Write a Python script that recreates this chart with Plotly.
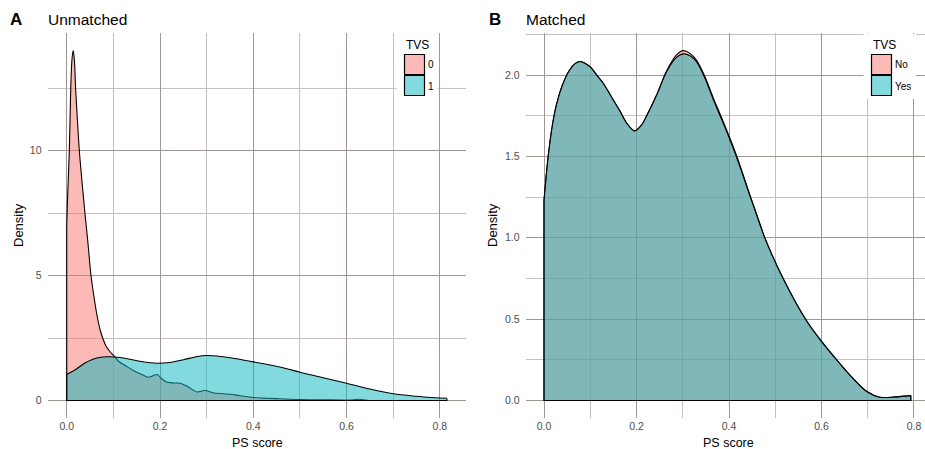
import plotly.graph_objects as go

W, H = 925, 449

# ---- Unmatched cohort: propensity-score densities by TVS group ----
ps_unm_0 = [0.000, 0.002, 0.0056, 0.0086, 0.0115, 0.014, 0.0165, 0.019, 0.023, 0.027,
            0.033, 0.039, 0.045, 0.052, 0.058, 0.065, 0.072, 0.078, 0.085, 0.093,
            0.1035, 0.111, 0.127, 0.143, 0.160, 0.175, 0.186, 0.194, 0.203, 0.214,
            0.228, 0.243, 0.260, 0.279, 0.296, 0.315, 0.336, 0.355, 0.371, 0.400,
            0.430, 0.457, 0.500, 0.550, 0.600, 0.615, 0.628, 0.640, 0.648]
dens_unm_0 = [7.0, 8.2, 10.0, 12.5, 13.7, 14.0, 13.6, 12.5, 11.2, 10.0,
              8.7, 7.5, 6.4, 5.0, 4.2, 3.4, 2.8, 2.45, 2.15, 1.95,
              1.74, 1.57, 1.38, 1.20, 1.05, 0.93, 1.00, 1.04, 0.88, 0.74,
              0.70, 0.69, 0.55, 0.34, 0.40, 0.30, 0.27, 0.24, 0.19, 0.12,
              0.09, 0.07, 0.04, 0.03, 0.02, 0.03, 0.05, 0.02, 0.0]

ps_unm_1 = [0.000, 0.020, 0.039, 0.055, 0.070, 0.085, 0.1035, 0.130, 0.160, 0.193,
            0.220, 0.250, 0.280, 0.300, 0.330, 0.360, 0.393, 0.436, 0.470, 0.500,
            0.550, 0.600, 0.650, 0.700, 0.750, 0.790, 0.815]
dens_unm_1 = [1.04, 1.25, 1.50, 1.64, 1.72, 1.75, 1.74, 1.67, 1.56, 1.49,
              1.52, 1.63, 1.76, 1.80, 1.76, 1.68, 1.57, 1.42, 1.28, 1.13,
              0.91, 0.69, 0.46, 0.27, 0.17, 0.11, 0.09]

# ---- Matched cohort ----
ps_mat = [0.000, 0.009, 0.018, 0.027, 0.040, 0.055, 0.067, 0.078, 0.090, 0.100,
          0.114, 0.128, 0.145, 0.164, 0.180, 0.196, 0.210, 0.222, 0.244, 0.265,
          0.287, 0.301, 0.315, 0.330, 0.348, 0.366, 0.391, 0.417, 0.445, 0.467,
          0.478, 0.517, 0.568, 0.600, 0.633, 0.665, 0.698, 0.726, 0.760, 0.793]
dens_mat_no = [1.23, 1.50, 1.69, 1.82, 1.94, 2.03, 2.07, 2.083, 2.07, 2.05,
               2.00, 1.95, 1.87, 1.78, 1.70, 1.657, 1.69, 1.75, 1.88, 2.025,
               2.125, 2.15, 2.135, 2.09, 1.99, 1.86, 1.69, 1.50, 1.265, 1.085,
               0.995, 0.75, 0.485, 0.36, 0.248, 0.145, 0.055, 0.02, 0.022, 0.03]
dens_mat_yes = [1.23, 1.50, 1.69, 1.82, 1.94, 2.03, 2.07, 2.083, 2.07, 2.05,
                2.00, 1.95, 1.87, 1.78, 1.70, 1.657, 1.69, 1.75, 1.88, 2.02,
                2.11, 2.13, 2.12, 2.08, 1.98, 1.85, 1.68, 1.49, 1.26, 1.08,
                0.995, 0.75, 0.49, 0.365, 0.25, 0.145, 0.055, 0.02, 0.022, 0.03]

legend_unm = ["0", "1"]
legend_mat = ["No", "Yes"]

FILL_RED = "rgba(248,118,109,0.5)"
FILL_TEAL = "rgba(5,182,190,0.5)"
GRID_MAJOR = "rgb(160,149,146)"
GRID_MINOR = "rgb(200,192,190)"
TICK_GREY = "#4D4D4D"
FONT = "Liberation Sans, Arial, Helvetica, sans-serif"


def px_x(p):
    return p / W


def px_y(p):
    return 1 - p / H


fig = go.Figure()


def add_density(x, y, fill, xa, ya):
    fig.add_trace(go.Scatter(
        x=x, y=y, mode="lines", fill="tozeroy", fillcolor=fill,
        line=dict(color="black", width=1.1, shape="spline", smoothing=0.9),
        xaxis=xa, yaxis=ya, showlegend=False, hoverinfo="skip"))
    # close the outline: end verticals and the baseline
    fig.add_trace(go.Scatter(
        x=[x[0], x[0], x[-1], x[-1]], y=[y[0], 0, 0, y[-1]], mode="lines",
        line=dict(color="black", width=1.1),
        xaxis=xa, yaxis=ya, showlegend=False, hoverinfo="skip"))


add_density(ps_unm_0, dens_unm_0, FILL_RED, "x", "y")
add_density(ps_unm_1, dens_unm_1, FILL_TEAL, "x", "y")
add_density(ps_mat, dens_mat_no, FILL_RED, "x2", "y2")
add_density(ps_mat, dens_mat_yes, FILL_TEAL, "x2", "y2")


def axis_style(dtick, minor_dtick, fmt, ticklen):
    return dict(
        dtick=dtick, tick0=0, tickformat=fmt,
        showgrid=True, gridcolor=GRID_MAJOR, gridwidth=1.2,
        minor=dict(dtick=minor_dtick, tick0=0, showgrid=True,
                   gridcolor=GRID_MINOR, gridwidth=0.9),
        zeroline=False, showline=False,
        ticks="outside" if ticklen else "", ticklen=max(ticklen, 1),
        tickcolor="rgba(0,0,0,0)",
        tickfont=dict(size=10.5, color=TICK_GREY, family=FONT),
        fixedrange=True,
    )


y_dom = [px_y(418), px_y(33)]

fig.update_layout(
    width=W, height=H,
    margin=dict(l=0, r=0, t=0, b=0),
    paper_bgcolor="white", plot_bgcolor="white",
    font=dict(family=FONT, color="black"),
    showlegend=False,
    xaxis=dict(domain=[px_x(47.6), px_x(466)], range=[-0.041, 0.856], anchor="y",
               **axis_style(0.2, 0.1, ".1f", 0)),
    yaxis=dict(domain=y_dom, range=[-0.7, 14.7], anchor="x",
               **axis_style(5, 2.5, "d", 3)),
    xaxis2=dict(domain=[px_x(525.7), 1.0], range=[-0.0396, 0.8238], anchor="y2",
                **axis_style(0.2, 0.1, ".1f", 0)),
    yaxis2=dict(domain=y_dom, range=[-0.1077, 2.2585], anchor="x2",
                **axis_style(0.5, 0.25, ".1f", 3)),
)

annotations = []
shapes = []


def text(t, x, y, size, xanchor="center", bold=False, color="black", angle=0):
    annotations.append(dict(
        text=f"<b>{t}</b>" if bold else t, x=px_x(x), y=px_y(y),
        xref="paper", yref="paper", xanchor=xanchor, yanchor="middle",
        showarrow=False, textangle=angle, borderpad=0,
        font=dict(size=size, color=color, family=FONT)))


# panel tags and titles
text("A", 16, 19, 17, bold=True)
text("Unmatched", 47, 19, 15.5, xanchor="left")
text("B", 495, 19, 17, bold=True)
text("Matched", 525, 19, 15.5, xanchor="left")

# axis titles
text("PS score", 257, 443, 12.5)
text("PS score", 728, 443, 12.5)
text("Density", 18, 225, 13, angle=-90)
text("Density", 492, 225, 13, angle=-90)


def legend(x_left, bg_right, labels):
    shapes.append(dict(type="rect", xref="paper", yref="paper",
                       x0=px_x(x_left - 8), x1=px_x(bg_right), y0=px_y(99), y1=px_y(34),
                       fillcolor="white", line=dict(width=0), layer="above"))
    text("TVS", x_left, 45, 12, xanchor="left")
    for i, (lab, col) in enumerate(zip(labels, [FILL_RED, FILL_TEAL])):
        top = 54.5 + 21 * i
        shapes.append(dict(type="rect", xref="paper", yref="paper",
                           x0=px_x(x_left), x1=px_x(x_left + 20),
                           y0=px_y(top + 20), y1=px_y(top),
                           fillcolor=col, line=dict(color="black", width=1.2),
                           layer="above"))
        text(lab, x_left + 22.5, top + 10.5, 10, xanchor="left")


legend(404.5, 438, legend_unm)
legend(871.5, 916, legend_mat)

fig.update_layout(annotations=annotations, shapes=shapes)

fig.write_html("out.html")
